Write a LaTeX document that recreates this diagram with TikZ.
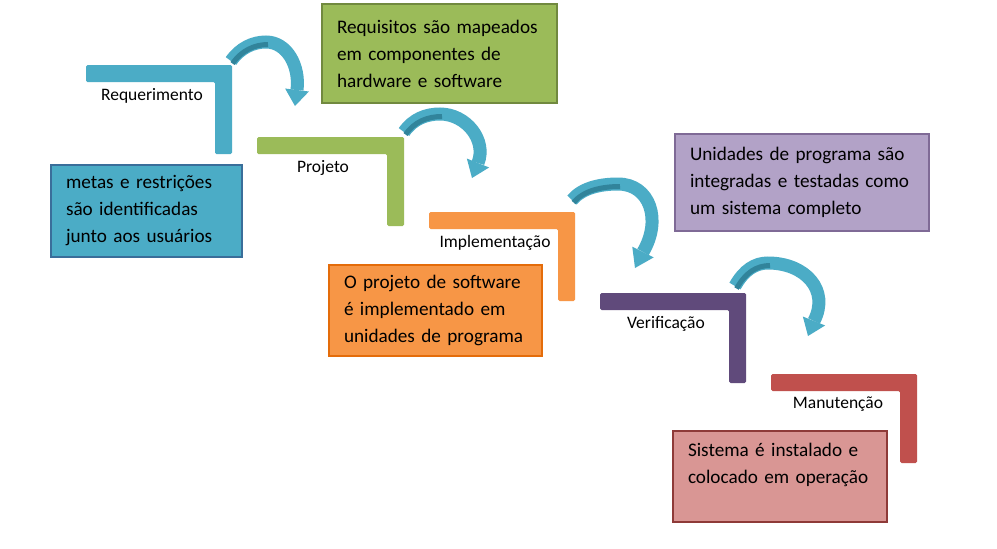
\documentclass[tikz,border=0pt]{standalone}
\usepackage{fontspec}
\setmainfont{Carlito}
\usetikzlibrary{calc}
\definecolor{cteal}{HTML}{4BACC6}
\definecolor{cteald}{HTML}{31849B}
\definecolor{cgreen}{HTML}{9BBB59}
\definecolor{corange}{HTML}{F79646}
\definecolor{cpurple}{HTML}{604A7B}
\definecolor{cred}{HTML}{C0504D}
\definecolor{bteal}{HTML}{4BACC6}
\definecolor{bteale}{HTML}{3A6E9A}
\definecolor{bgreen}{HTML}{9BBB59}
\definecolor{bgreene}{HTML}{71893F}
\definecolor{borange}{HTML}{F79646}
\definecolor{borangee}{HTML}{E46C0A}
\definecolor{bpurple}{HTML}{B2A2C7}
\definecolor{bpurplee}{HTML}{7F6A96}
\definecolor{bred}{HTML}{D99694}
\definecolor{brede}{HTML}{8E3A38}
\newcommand\drawstepL[5]{\fill[#1, rounded corners=1.5pt] (#2,#3) -- (#4,#3) -- (#4,#5) -- ({#4-17},#5) -- ({#4-17},{#3+17}) -- (#2,{#3+17}) -- cycle;}
\tikzset{
  infobox/.style={draw, line width=1.3pt, anchor=north west, align=left, inner xsep=15pt, inner ysep=0pt, outer sep=0pt, font=\fontsize{19.2}{27}\selectfont},
  steplabel/.style={font=\fontsize{17.5}{20}\selectfont, inner sep=0pt},
  shaft/.style={line width=13pt, cteal},
  shine/.style={line width=5pt, cteald},
}
\newcommand\headtip[3]{\fill[#3] ($(#1)!12pt!90:(#2)$) -- ($(#1)!12pt!-90:(#2)$) -- (#2) -- cycle;}
\begin{document}
\begin{tikzpicture}[x=1pt,y=-1pt]
\useasboundingbox (0,0) rectangle (997,549);
\fill[white] (0,0) rectangle (997,549);

% steps
\drawstepL{cteal}{86}{65}{232}{154}
\drawstepL{cgreen}{257}{137}{404}{226}
\drawstepL{corange}{429}{212}{575}{301}
\drawstepL{cpurple}{600}{293}{746}{383}
\drawstepL{cred}{771}{374}{917}{463}

% step labels
\node[steplabel] (lreq) at (152,96) {Requerimento};
\node[steplabel] (lproj) at (323,168) {Projeto};
\node[steplabel] (limpl) at (495,243) {Implementação};
\node[steplabel] (lver) at (666,324) {Verificação};
\node[steplabel] (lman) at (838,404) {Manutenção};

% info boxes
\node[infobox, fill=bteal, draw=bteale, text width=161pt, minimum height=92pt] (breq) at (51,165)
  {metas e restrições\\são identificadas\\junto aos usuários};
\node[infobox, fill=bgreen, draw=bgreene, text width=205pt, minimum height=99pt] (bproj) at (322,4)
  {Requisitos são mapeados\\em componentes de\\hardware e software};
\node[infobox, fill=borange, draw=borangee, text width=183pt, minimum height=91pt] (bimpl) at (329,265)
  {O projeto de software\\é implementado em\\unidades de programa};
\node[infobox, fill=bpurple, draw=bpurplee, text width=224pt, minimum height=97pt] (bver) at (675,134)
  {Unidades de programa são\\integradas e testadas como\\um sistema completo};
\node[infobox, fill=bred, draw=brede, text width=184pt, minimum height=91pt] (bman) at (673,431)
  {Sistema é instalado e\\colocado em operação\\\mbox{}};

% curved arrows
\coordinate (t1) at (231,61); \coordinate (a1) at (266,42); \coordinate (e1) at (297,90); \coordinate (p1) at (295,106);
\coordinate (t2) at (404,132); \coordinate (a2) at (440,114); \coordinate (e2) at (478,163); \coordinate (p2) at (472,178);
\coordinate (t3) at (572,200); \coordinate (a3) at (618,184); \coordinate (e3) at (643,252); \coordinate (p3) at (635,268);
\coordinate (t4) at (735,286); \coordinate (a4) at (768,263); \coordinate (e4) at (814,321); \coordinate (p4) at (808,336);

\draw[shaft] (t1) .. controls (240,48) and (253,42) .. (a1) .. controls (287,42) and (300,66) .. (e1);
\headtip{e1}{p1}{cteal}
\draw[shine] ([shift={(1.5,2.5)}]t1) .. controls (241.5,50.5) and (254.5,44.5) .. (268,44.5);

\draw[shaft] (t2) .. controls (413,119) and (426,114) .. (a2) .. controls (466,114) and (487,140) .. (e2);
\headtip{e2}{p2}{cteal}
\draw[shine] ([shift={(1.5,2.5)}]t2) .. controls (414.5,121.5) and (427.5,116.5) .. (442,116.5);

\draw[shaft] (t3) .. controls (582,188) and (600,184) .. (a3) .. controls (650,184) and (662,220) .. (e3);
\headtip{e3}{p3}{cteal}
\draw[shine] ([shift={(1.5,2.5)}]t3) .. controls (583.5,190.5) and (601.5,186.5) .. (620,186.5);

\draw[shaft] (t4) .. controls (744,270) and (755,263) .. (a4) .. controls (805,263) and (830,290) .. (e4);
\headtip{e4}{p4}{cteal}
\draw[shine] ([shift={(1.5,2.5)}]t4) .. controls (745.5,272.5) and (756.5,265.5) .. (770,265.5);
\end{tikzpicture}
\end{document}
